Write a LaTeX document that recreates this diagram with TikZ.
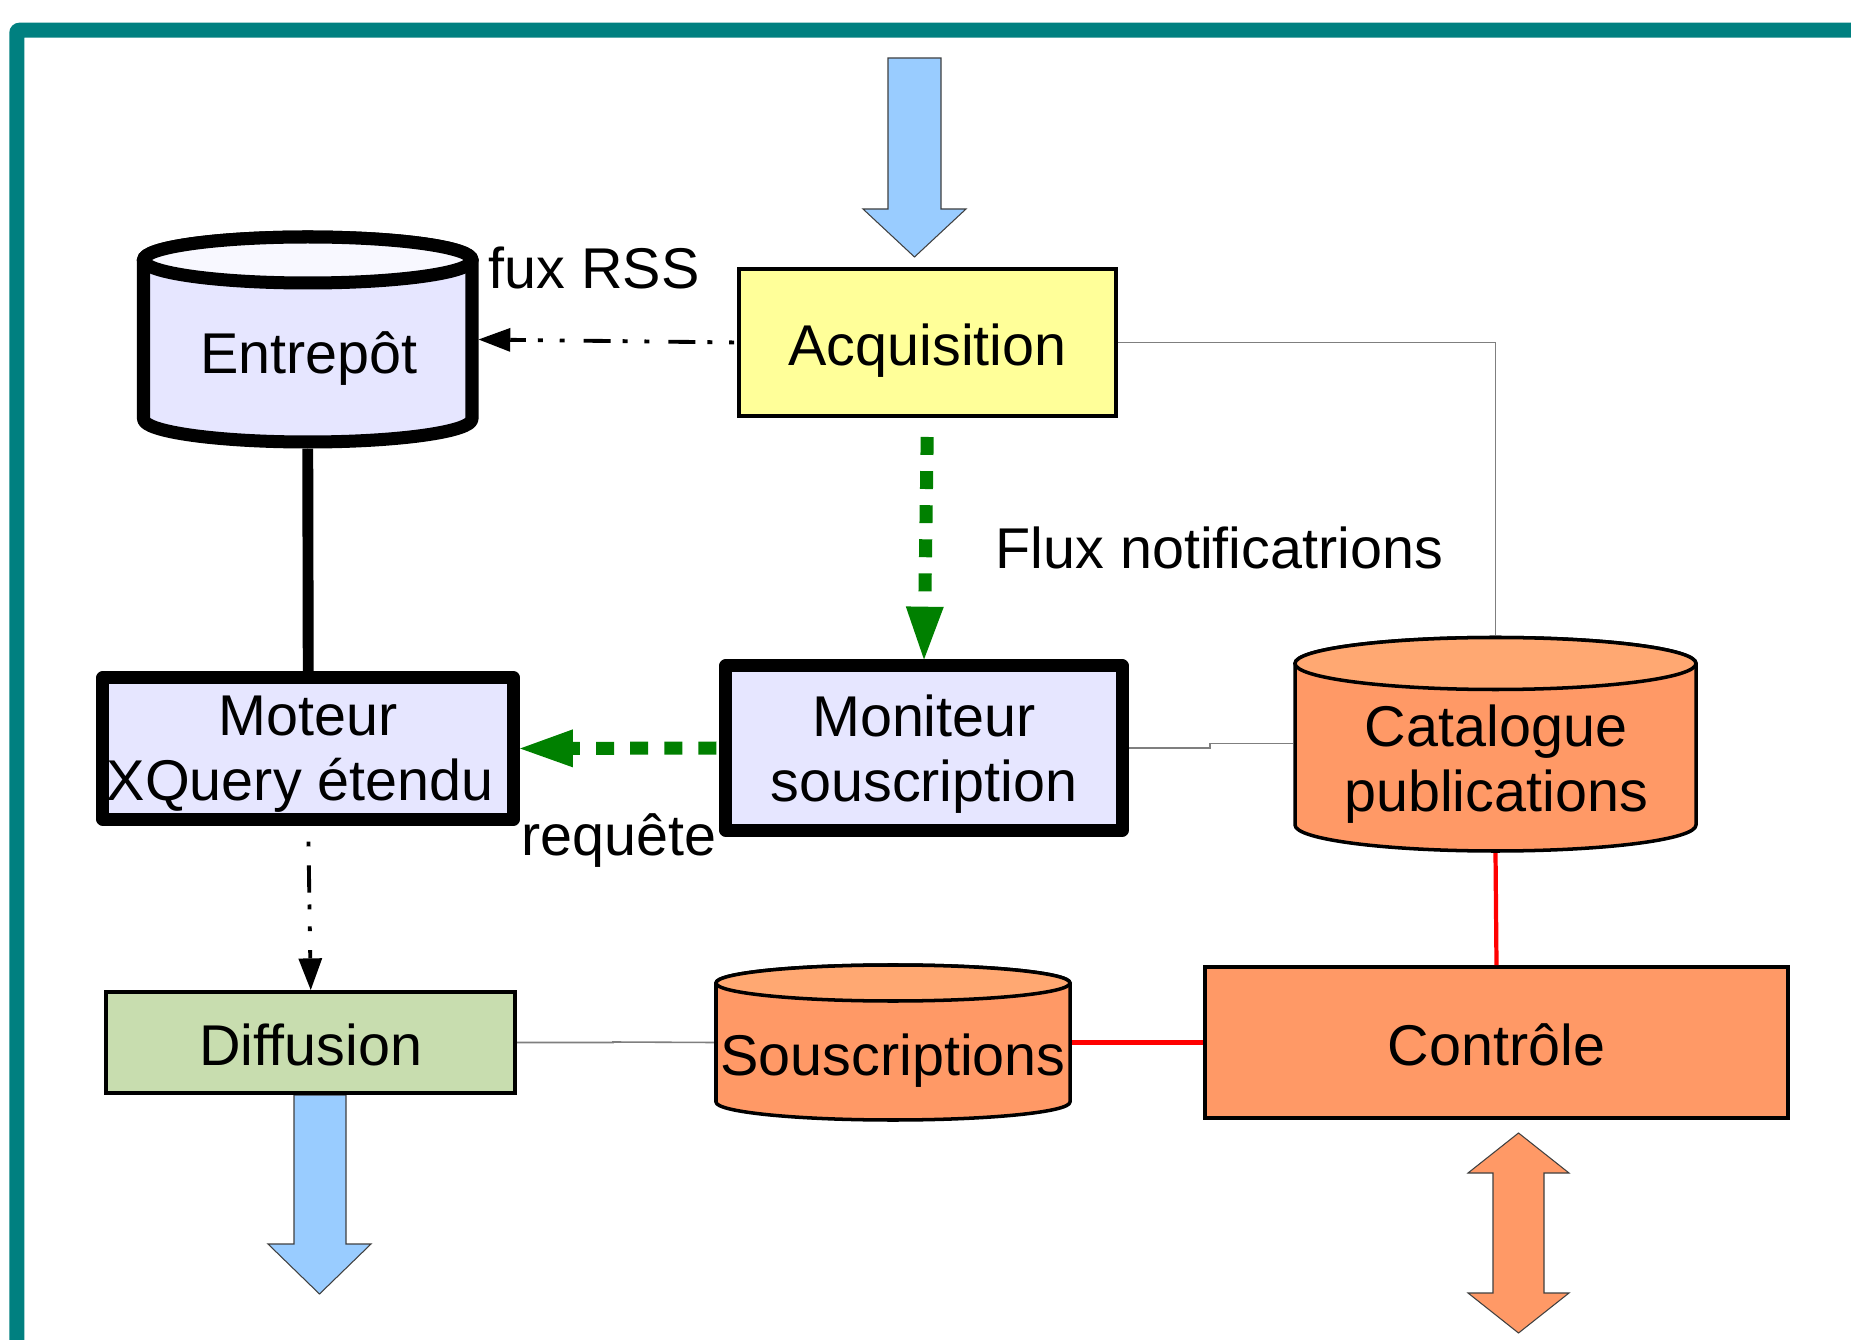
\documentclass[tikz,border=0pt]{standalone}
\usepackage{fontspec}
\setmainfont{Liberation Sans}
\usetikzlibrary{arrows.meta}

\definecolor{framecol}{HTML}{008080}
\definecolor{flowblue}{HTML}{99CCFF}
\definecolor{lavender}{HTML}{E6E6FF}
\definecolor{lavendertop}{HTML}{F8F8FF}
\definecolor{acqyellow}{HTML}{FFFF99}
\definecolor{diffgreen}{HTML}{C8DDAF}
\definecolor{salmon}{HTML}{FF9966}
\definecolor{salmontop}{HTML}{FFA872}
\definecolor{flowgreen}{HTML}{008000}
\definecolor{wiregray}{HTML}{7F7F7F}

% database drum: centre x, top y, bottom y, x radius, y radius, body fill, top fill, line width
\newcommand\drawdrum[8]{%
  \filldraw[fill=#6, line width=#8, line join=round]
    (#1-#4,#2) -- (#1-#4,#3)
    arc[start angle=180, end angle=360, x radius=#4*0.01cm, y radius=#5*0.01cm]
    -- (#1+#4,#2)
    arc[start angle=0, end angle=180, x radius=#4*0.01cm, y radius=#5*0.01cm] -- cycle;
  \filldraw[fill=#7, line width=#8] (#1,#2) ellipse[x radius=#4*0.01cm, y radius=#5*0.01cm];
}

\tikzset{
  txt/.style={font=\fontsize{16.35pt}{18.6pt}\selectfont, text=black},
  lbl/.style={txt, inner sep=0pt},
  thinbox/.style={txt, draw=black, line width=1.1pt, inner sep=0pt,
    text height=13.1pt, text depth=0pt},
  thickbox/.style={txt, draw=black, line width=3.7pt, line join=round, inner sep=0pt,
    align=center, text depth=0pt, fill=lavender},
  drumarea/.style={draw=none, inner sep=0pt, outer sep=0pt},
  greenflow/.style={draw=flowgreen, line width=3.7pt, dash pattern=on 5.1pt off 4.6pt,
    -{Triangle[length=15pt, width=10.8pt, line width=0pt]}},
  dashdot/.style={draw=black, line width=1.1pt,
    -{Triangle[length=9pt, width=6.8pt, line width=0pt]}},
  wire/.style={draw=wiregray, line width=0.45pt},
  redwire/.style={draw=red, line width=1.2pt},
  blockarrow/.style={draw=black!75, line width=0.3pt, line join=miter},
}

\begin{document}
\begin{tikzpicture}[x=0.01cm, y=-0.01cm]
\useasboundingbox (0,0) rectangle (1851,1340);
\clip (0,0) rectangle (1851,1340);
\fill[white] (0,0) rectangle (1851,1340);

% frame
\fill[framecol] (9.3,1360) -- (9.3,32.7) arc[start angle=180, end angle=90, radius=0.1cm]
  -- (1870,22.7) -- (1870,37.7) -- (24.3,37.7) -- (24.3,1360) -- cycle;

% input / output block arrows
\filldraw[blockarrow, fill=flowblue] (888,58) -- (941,58) -- (941,209) -- (966,209)
  -- (914.5,257) -- (863,209) -- (888,209) -- cycle;
\filldraw[blockarrow, fill=flowblue] (294,1095) -- (346,1095) -- (346,1244) -- (371,1244)
  -- (319.5,1294) -- (268,1244) -- (294,1244) -- cycle;
\filldraw[blockarrow, fill=salmon] (1493,1173) -- (1468,1173) -- (1518.5,1133) -- (1569,1173)
  -- (1544,1173) -- (1544,1293) -- (1569,1293) -- (1518.5,1333) -- (1468,1293)
  -- (1493,1293) -- cycle;

% areas occupied by the drums
\node[drumarea, minimum width=3.415cm, minimum height=2.18cm] (ent) at (307.75,339.5) {};
\node[drumarea, minimum width=4.05cm, minimum height=2.17cm] (cat) at (1495.5,743.5) {};
\node[drumarea, minimum width=3.58cm, minimum height=1.59cm] (sous) at (893,1042.5) {};

% boxes
\node[thinbox, fill=acqyellow, minimum width=3.77cm, minimum height=1.47cm] (acq)
  at (927.5,342.5) {Acquisition};
\node[thickbox, minimum width=3.96cm, minimum height=1.64cm] (mon)
  at (924,748) {Moniteur\\souscription};
\node[thickbox, minimum width=4.105cm, minimum height=1.41cm] (mot)
  at (308.25,748.5) {Moteur\\XQuery étendu\hspace*{0.16cm}};
\node[thinbox, text height=12.8pt, fill=diffgreen, minimum width=4.085cm, minimum height=1.01cm] (diff)
  at (310.75,1042.5) {Diffusion};
\node[thinbox, text height=12.8pt, fill=salmon, minimum width=5.83cm, minimum height=1.51cm] (ctrl)
  at (1496.5,1042.5) {Contrôle};

% plain connections
\draw[wire] (acq.east) -| (cat.north);
\draw[wire] (mon.east) -- (1210,748) -- (1210,743.5) -- (cat.west);
\draw[wire] (diff.east) -- (613,1042.5) -- (613,1042) -- (sous.west);
\draw[redwire] (cat.south) -- (ctrl.north);
\draw[redwire] (sous.east) -- (ctrl.west);
\draw[line width=3.1pt] (ent.south) -- (mot.north);

% drums
\drawdrum{307.75}{260}{419}{164.25}{23}{lavender}{lavendertop}{3.7pt}
\drawdrum{1495.5}{663.5}{825}{200.5}{26}{salmon}{salmontop}{1pt}
\drawdrum{893}{983}{1102}{177}{18}{salmon}{salmontop}{1pt}

\node[lbl, anchor=base] (entlbl) at (309,374) {Entrepôt};
\node[lbl, align=center, text depth=0pt] (catlbl) at (1496,758) {Catalogue\\publications};
\node[lbl, anchor=base] (souslbl) at (893,1075) {Souscriptions};

% flows
\draw[dashdot, dash pattern=on 7.7pt off 5.4pt on 1.4pt off 4.8pt on 1.4pt off 3.4pt,
  dash phase=12.3pt] (acq.west) -- (ent.east);
\draw[dashdot, dash pattern=on 7.7pt off 3.4pt on 1.4pt off 4.8pt on 1.4pt off 5.4pt,
  dash phase=17.3pt, shorten <=0.16cm] (mot.south) -- (diff.north);
\draw[greenflow, shorten <=0.19cm] (acq.south) -- (mon.north);
\draw[greenflow, shorten <=0.03cm] (mon.west) -- (mot.east);

% flow labels
\node[lbl, anchor=base west] (rsslbl) at (488,289) {fux RSS};
\node[lbl, anchor=base west] (notiflbl) at (995,569) {Flux notificatrions};
\node[lbl, anchor=base west] (reqlbl) at (521,856) {requête};
\end{tikzpicture}
\end{document}
